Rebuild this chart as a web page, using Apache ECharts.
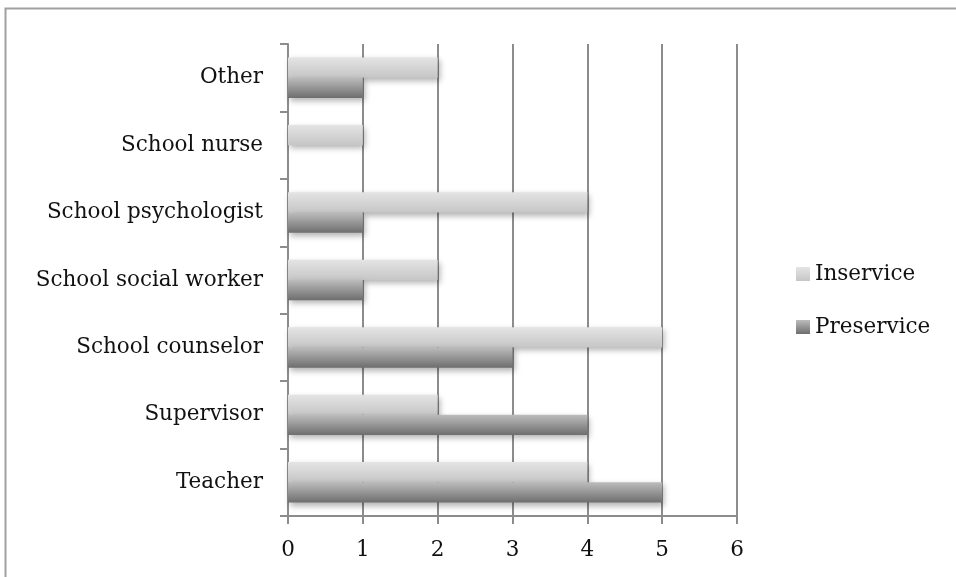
<!DOCTYPE html>
<html><head><meta charset="utf-8">
<script src="https://cdn.jsdelivr.net/npm/echarts@6/dist/echarts.min.js"></script>
<style>html,body{margin:0;padding:0;background:#fff}#c{width:956px;height:577px}</style>
</head><body><div id="c"></div>
<script>
const categories = ["Teacher","Supervisor","School counselor","School social worker","School psychologist","School nurse","Other"];
const inservice = [4,2,5,2,4,1,2];
const preservice = [5,4,3,1,1,0,1];
const xTicks = [0,1,2,3,4,5,6];

const font = "'DejaVu Serif', serif";
const chart = echarts.init(document.getElementById('c'), null, {renderer:'canvas'});
function grad(a,b){return new echarts.graphic.LinearGradient(0,0,0,1,[{offset:0,color:a},{offset:1,color:b}]);}
chart.setOption({
  animation:false,
  backgroundColor:'#fff',
  graphic:[{type:'rect',shape:{x:5.5,y:8.5,width:1000,height:1000},style:{fill:'none',stroke:'#a0a0a0',lineWidth:2}}],
  grid:{left:288,right:219,top:44,bottom:61,containLabel:false},
  legend:{
    orient:'vertical', left:791, top:258, itemGap:31, itemWidth:14, itemHeight:14,
    data:['Inservice','Preservice'],
    textStyle:{fontFamily:font,fontSize:21.5,color:'#111',padding:[3,0,0,0]},
    icon:'rect', itemStyle:{shadowBlur:0}
  },
  xAxis:{type:'value',min:xTicks[0],max:xTicks[xTicks.length-1],interval:1,
    axisLine:{show:true,lineStyle:{color:'#8c8c8c',width:2}},
    axisTick:{show:true,length:8,lineStyle:{color:'#8c8c8c',width:2}},
    axisLabel:{fontFamily:font,fontSize:21.5,color:'#111',margin:23},
    splitLine:{show:true,lineStyle:{color:'#8c8c8c',width:2}}
  },
  yAxis:{type:'category',data:categories,
    axisLine:{show:true,lineStyle:{color:'#8c8c8c',width:2}},
    axisTick:{show:true,length:8,lineStyle:{color:'#8c8c8c',width:2}},
    axisLabel:{fontFamily:font,fontSize:21.5,color:'#111',margin:25,padding:[6,0,0,0]},
    splitLine:{show:false}
  },
  series:[
    {name:'Inservice',type:'bar',data:inservice,barGap:'0%',barCategoryGap:'40%',
      itemStyle:{color:grad('#e4e4e4','#c6c6c6'),shadowColor:'rgba(0,0,0,0.3)',shadowBlur:6,shadowOffsetX:2,shadowOffsetY:3}},
    {name:'Preservice',type:'bar',data:preservice,barGap:'0%',barCategoryGap:'40%',
      itemStyle:{color:grad('#bcbcbc','#6e6e6e'),shadowColor:'rgba(0,0,0,0.3)',shadowBlur:6,shadowOffsetX:2,shadowOffsetY:3}}
  ]
});
</script></body></html>
